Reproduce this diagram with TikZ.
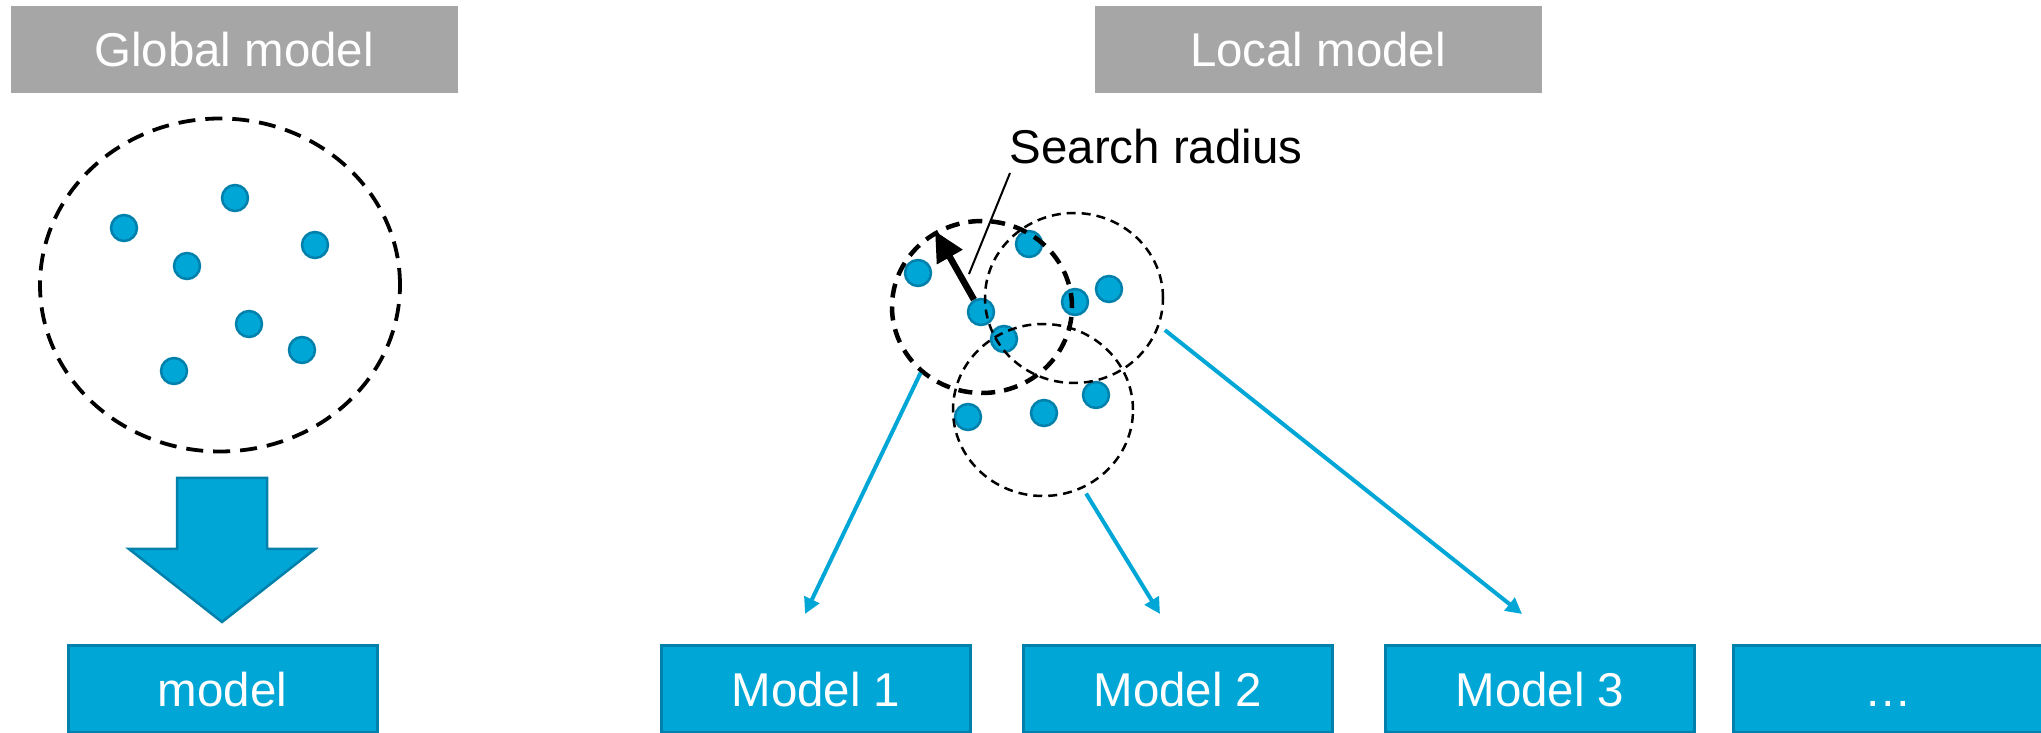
\documentclass[tikz,border=0pt]{standalone}
\usepackage{fontspec}
\setmainfont{Liberation Sans}
\usetikzlibrary{arrows.meta,positioning,calc,shapes.geometric}
\definecolor{ptblue}{RGB}{0,166,214}
\definecolor{ptedge}{RGB}{0,128,170}
\definecolor{ptgray}{RGB}{166,166,166}

\begin{document}
\begin{tikzpicture}[x=0.1mm,y=-0.1mm,>=Stealth,line join=miter,
    every node/.style={font=\fontsize{13.5}{16}\selectfont,inner sep=1pt},
    titlebox/.style={fill=ptgray,text=white,minimum width=44.7mm,minimum height=8.7mm},
    modelbox/.style={fill=ptblue,draw=ptedge,line width=0.3mm,text=white,
        text height=9.8pt,text depth=0pt,minimum width=30.9mm,minimum height=8.7mm},
    pt/.style={circle,fill=ptblue,draw=ptedge,line width=0.25mm,minimum size=2.6mm,inner sep=0pt},
    region/.style={ellipse,draw,inner sep=0pt},
    thinregion/.style={region,line width=0.25mm,dash pattern=on 0.9mm off 0.6mm},
    link/.style={draw=ptblue,line width=0.4mm,-{Triangle[length=1.6mm,width=1.6mm]}}]
    \useasboundingbox (0,0) rectangle (2041,733);

    % headings
    \node[titlebox] (gtitle) at (234,50) {Global model};
    \node[titlebox] (ltitle) at (1318,50) {Local model};

    % global model: all points in one region
    \foreach \n/\x/\y in {1/124/228,2/235/198,3/315/245,4/187/266,5/249/324,6/302/350,7/174/371} {
        \node[pt] (g\n) at (\x,\y) {};
    }
    \node[region,line width=0.38mm,dash pattern=on 1.7mm off 1.0mm,
        minimum width=36mm,minimum height=33.3mm] (global) at (220,285) {};
    \filldraw[fill=ptblue,draw=ptedge,line width=0.25mm]
        (177,478) -- (267,478) -- (267,549) -- (315,549) -- (222,622) -- (129,549) -- (177,549) -- cycle;

    % local model: overlapping search regions
    \foreach \n/\x/\y in {1/918/273,2/1029/244,3/981/312,4/1004/339,5/1075/302,
        6/1109/289,7/968/417,8/1044/413,9/1096/395} {
        \node[pt] (l\n) at (\x,\y) {};
    }
    \node[region,line width=0.45mm,dash pattern=on 1.4mm off 0.9mm,
        minimum width=18mm,minimum height=17.2mm] (rsearch) at (982,307) {};
    \node[thinregion,minimum width=17.8mm,minimum height=17mm] (rright) at (1074,298) {};
    \node[thinregion,minimum width=18mm,minimum height=17.2mm] (rlow) at (1043,410) {};

    \coordinate (rtip) at (935,231);
    \draw[line width=0.65mm,-{Triangle[length=3mm,width=2.8mm]}] (l3) -- (rtip);
    \node[anchor=base west,inner sep=0pt] (srlab) at (1009,164) {Search radius};
    \coordinate (srfoot) at (969,274);
    \draw[line width=0.2mm] ([shift={(1,9)}]srlab.base west) -- (srfoot);

    % resulting models
    \node[modelbox] (gm) at (222.5,689.5) {model};
    \node[modelbox] (m1) at (816,689.5) {Model 1};
    \node[modelbox,right=5mm of m1] (m2) {Model 2};
    \node[modelbox,right=5mm of m2] (m3) {Model 3};
    \node[modelbox,right=3.6mm of m3] (mn) {…};

    \coordinate (tip1) at (805,614);
    \coordinate (tip2) at (1160,614);
    \coordinate (tip3) at (1522,614);
    \draw[link] (rsearch.227) -- (tip1);
    \draw[link,shorten <=0.6mm] (rlow.297) -- (tip2);
    \draw[link,shorten <=0.7mm] (rright.342) -- (tip3);
\end{tikzpicture}
\end{document}
